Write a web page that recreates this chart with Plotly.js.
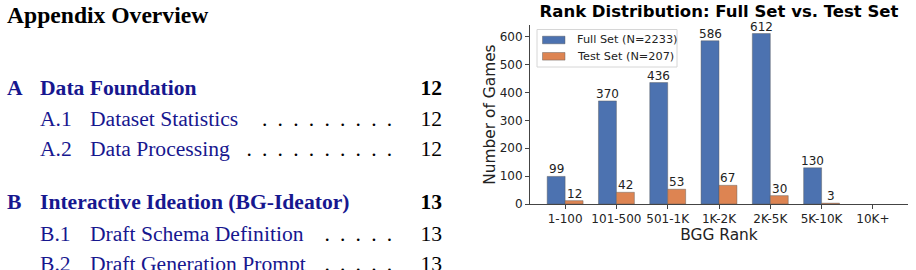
<!DOCTYPE html>
<html>
<head>
<meta charset="utf-8">
<script src="https://cdn.plot.ly/plotly-3.0.1.min.js"></script>
<style>
html,body{margin:0;padding:0;background:#fff;}
#wrap{position:relative;width:916px;height:270px;overflow:hidden;}
#chart{position:absolute;left:0;top:0;width:916px;height:270px;}
#toc{position:absolute;left:0;top:0;width:470px;height:270px;pointer-events:none;}
</style>
</head>
<body>
<div id="wrap">
<div id="chart"></div>
<svg id="toc" width="470" height="270" xmlns="http://www.w3.org/2000/svg"></svg>
</div>
<script>
// ---- Chart data ----
const categories = ["1-100", "101-500", "501-1K", "1K-2K", "2K-5K", "5K-10K", "10K+"];
const fullSet = [99, 370, 436, 586, 612, 130, 0];
const testSet = [12, 42, 53, 67, 30, 3, 0];
const fullName = "Full Set (N=2233)";
const testName = "Test Set (N=207)";
const yTicks = [0, 100, 200, 300, 400, 500, 600];

// ---- TOC text ----
const tocHeading = "Appendix Overview";
const tocRows = [
  {kind: "sec", num: "A", title: "Data Foundation", page: "12"},
  {kind: "sub", num: "A.1", title: "Dataset Statistics", page: "12", dots: 9},
  {kind: "sub", num: "A.2", title: "Data Processing", page: "12", dots: 10},
  {kind: "sec", num: "B", title: "Interactive Ideation (BG-Ideator)", page: "13"},
  {kind: "sub", num: "B.1", title: "Draft Schema Definition", page: "13", dots: 5},
  {kind: "sub", num: "B.2", title: "Draft Generation Prompt", page: "13", dots: 5}
];
const tocBaselines = [95, 126, 155.7, 209, 241, 270.5];

const NS = "http://www.w3.org/2000/svg";
const svg = document.getElementById("toc");
const navy = "#17178f";
function addText(x, y, str, opts) {
  const t = document.createElementNS(NS, "text");
  t.setAttribute("x", x);
  t.setAttribute("y", y);
  t.setAttribute("font-family", "Liberation Serif, Times New Roman, serif");
  t.setAttribute("font-size", opts.size || 21.6);
  if (opts.bold) t.setAttribute("font-weight", "bold");
  t.setAttribute("fill", opts.color || "#000");
  if (opts.anchor) t.setAttribute("text-anchor", opts.anchor);
  t.textContent = str;
  svg.appendChild(t);
}
addText(7, 23, tocHeading, {size: 23.6, bold: true});
tocRows.forEach((r, i) => {
  const y = tocBaselines[i];
  if (r.kind === "sec") {
    addText(7, y, r.num, {bold: true, color: navy});
    addText(40, y, r.title, {bold: true, color: navy});
    addText(442, y, r.page, {bold: true, anchor: "end"});
  } else {
    addText(40, y, r.num, {color: navy});
    addText(90, y, r.title, {color: navy});
    for (let k = 0; k < r.dots; k++) {
      addText(389.5 - 15.6 * k, y, ".", {anchor: "middle"});
    }
    addText(442, y, r.page, {anchor: "end"});
  }
});

// ---- Plotly chart ----
const font = "DejaVu Sans, sans-serif";
const blue = "#4c72b0", orange = "#dd8452";
const edgeW = arr => arr.map(v => v === 0 ? 0 : 0.8);
const traces = [
  {
    type: "bar", name: fullName, x: categories, y: fullSet,
    marker: {color: blue, line: {color: "rgba(90,90,90,0.55)", width: edgeW(fullSet)}},
    hoverinfo: "none", showlegend: false
  },
  {
    type: "bar", name: testName, x: categories, y: testSet,
    marker: {color: orange, line: {color: "rgba(90,90,90,0.55)", width: edgeW(testSet)}},
    hoverinfo: "none", showlegend: false
  }
];

const M = {l: 530, r: 8, t: 25, b: 66};
const PW = 916 - M.l - M.r, PH = 270 - M.t - M.b;
const xRange = [-0.685, 6.685];
const halfBarPx = 0.175 * PW / (xRange[1] - xRange[0]);
const px = v => (v - M.l) / PW;
const py = v => (270 - M.b - v) / PH;

// value labels above bars (matplotlib bar_label style), positioned on data scales
const annotations = [];
[[fullSet, -halfBarPx], [testSet, halfBarPx]].forEach(([arr, shift]) => {
  arr.forEach((v, i) => {
    if (v === 0) return;
    annotations.push({
      xref: "x", yref: "y", x: categories[i], y: v, xshift: shift, yshift: -2,
      xanchor: "center", yanchor: "bottom", showarrow: false,
      text: String(v), font: {family: font, size: 12, color: "#222"}
    });
  });
});

// legend drawn as a matplotlib-style box
const legendItems = [{name: fullName, color: blue}, {name: testName, color: orange}];
const shapes = [{
  type: "rect", xref: "paper", yref: "paper", layer: "above",
  x0: px(537), x1: px(677), y0: py(67), y1: py(29.5),
  line: {color: "#d6d6d6", width: 1}, fillcolor: "rgba(255,255,255,0.85)"
}];
legendItems.forEach((it, i) => {
  const cy = 40 + i * 16.3;
  shapes.push({
    type: "rect", xref: "paper", yref: "paper", layer: "above",
    x0: px(542.5), x1: px(565), y0: py(cy + 3.8), y1: py(cy - 3.8),
    line: {color: "rgba(90,90,90,0.55)", width: 0.8}, fillcolor: it.color
  });
  annotations.push({
    xref: "paper", yref: "paper", x: px(574.5), y: py(cy),
    xanchor: "left", yanchor: "middle", showarrow: false,
    text: it.name, font: {family: font, size: 11.3, color: "#222"}
  });
});

const layout = {
  width: 916, height: 270,
  margin: {l: M.l, r: M.r, t: M.t, b: M.b, pad: 0},
  paper_bgcolor: "rgba(0,0,0,0)", plot_bgcolor: "rgba(0,0,0,0)",
  font: {family: font, size: 12, color: "#222"},
  barmode: "group", bargap: 0.3, bargroupgap: 0,
  showlegend: false,
  shapes: shapes, annotations: annotations,
  title: {
    text: "<b>Rank Distribution: Full Set vs. Test Set</b>",
    font: {family: font, size: 16.5, color: "#000"},
    xref: "paper", x: 0.5, xanchor: "center",
    yref: "container", y: 0.98, yanchor: "top"
  },
  xaxis: {
    type: "category", range: xRange,
    showline: true, linecolor: "#444", linewidth: 1,
    ticks: "outside", ticklen: 4, tickcolor: "#444",
    showgrid: false, zeroline: false,
    tickfont: {family: font, size: 12, color: "#222"},
    title: {text: "BGG Rank", font: {family: font, size: 15.4, color: "#222"}, standoff: 0},
    automargin: false, fixedrange: true
  },
  yaxis: {
    range: [0, 642.6],
    tickvals: yTicks,
    showline: true, linecolor: "#444", linewidth: 1,
    ticks: "outside", ticklen: 4, tickcolor: "#444",
    showgrid: false, zeroline: false,
    tickfont: {family: font, size: 12, color: "#222"},
    title: {text: "Number of Games", font: {family: font, size: 15.4, color: "#222"}, standoff: 0},
    automargin: false, fixedrange: true
  }
};
Plotly.newPlot("chart", traces, layout, {displayModeBar: false, staticPlot: true});
</script>
</body>
</html>
